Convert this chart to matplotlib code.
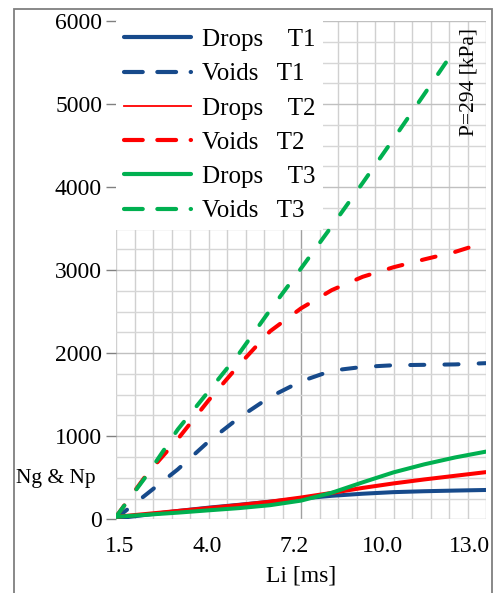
import numpy as np
import matplotlib
matplotlib.use("Agg")
import matplotlib.pyplot as plt
from matplotlib.lines import Line2D
from matplotlib.patches import Rectangle

plt.rcParams['font.family'] = ['Liberation Serif', 'DejaVu Serif']

# ---- data ----
x_common = [1.5, 2.5, 3.5, 4.5, 5.5, 6.5, 7.5, 8.5, 9.5, 10.5, 11.5, 12.5, 13.5]
drops_t1 = [10, 55, 100, 140, 175, 212, 250, 283, 308, 327, 338, 346, 353]
drops_t2 = [30, 65, 100, 135, 172, 212, 262, 318, 378, 432, 480, 524, 568]
drops_t3 = [30, 55, 80, 108, 135, 170, 225, 320, 445, 565, 662, 745, 815]
voids_t1 = [10, 305, 600, 936, 1226, 1474, 1661, 1790, 1835, 1855, 1860, 1865, 1880]

x_voids_t2 = [1.5, 2.5, 3.5, 4.5, 5.5, 6.5, 7.5, 8.5, 9.5, 10.5, 11.5, 12.5, 13.1]
voids_t2 = [30, 542, 964, 1431, 1863, 2265, 2540, 2760, 2920, 3035, 3130, 3220, 3290]

x_voids_t3 = [1.5, 2.5, 3.5, 4.5, 5.5, 6.5, 7.5, 8.5, 9.5, 10.5, 11.5, 12.2]
voids_t3 = [30, 530, 1080, 1540, 2000, 2520, 3020, 3530, 4050, 4580, 5120, 5500]

xtick_labels = ["1.5", "4.0", "7.2", "10.0", "13.0"]
ytick_values = [0, 1000, 2000, 3000, 4000, 5000, 6000]
series_labels = ["Drops    T1", "Voids   T1", "Drops    T2",
                 "Voids   T2", "Drops    T3", "Voids   T3"]

# ---- style ----
BLUE = "#174A8B"
RED = "#FF0000"
GREEN = "#00B050"
W, H = 494, 593
fig = plt.figure(figsize=(W / 100, H / 100), dpi=100)

# outer frame
fig.patches.append(Rectangle((13.5 / W, -0.05), (491.5 - 13.5) / W, 1.05 - 8.5 / H,
                             transform=fig.transFigure, fill=False,
                             edgecolor="#7F7F7F", lw=1.3, zorder=0))

ax = fig.add_axes([116 / W, (H - 519.3) / H, (486 - 116) / W, (519.3 - 21) / H])
ax.set_xlim(1.5, 13.5)
ax.set_ylim(0, 6000)

# grid
for xv in np.linspace(1.5, 13.5, 21):
    c = "#A0A0A0" if abs(xv - 7.5) < 1e-6 else "#D0D0D0"
    ax.axvline(xv, color=c, lw=1.0, zorder=0)
for yv in np.arange(0, 6001, 250):
    c = "#C0C0C0" if yv % 1000 == 0 else "#D6D6D6"
    ax.axhline(yv, color=c, lw=1.0, zorder=0)

for s in ax.spines.values():
    s.set_visible(False)

LW = 2.9
dash = (0, (3.5, 5.0))
ax.plot(x_common, drops_t1, color=BLUE, lw=LW, solid_capstyle="round", zorder=3)
ax.plot(x_common, voids_t1, color=BLUE, lw=LW, ls=dash, dash_capstyle="round", zorder=3)
ax.plot(x_common, drops_t2, color=RED, lw=LW, solid_capstyle="round", zorder=3)
ax.plot(x_voids_t2, voids_t2, color=RED, lw=LW, ls=dash, dash_capstyle="round", zorder=3)
ax.plot(x_common, drops_t3, color=GREEN, lw=LW, solid_capstyle="round", zorder=4)
ax.plot(x_voids_t3, voids_t3, color=GREEN, lw=LW, ls=dash, dash_capstyle="round", zorder=4)

# ticks
ax.set_yticks(ytick_values)
ax.set_yticklabels([str(v) for v in ytick_values], fontsize=17)
ax.tick_params(axis="y", length=7, width=1, color="#808080", pad=3)
xtick_pos = [1.62, 4.46, 7.29, 10.13, 12.97]
ax.set_xticks(xtick_pos)
ax.set_xticklabels(xtick_labels, fontsize=17)
ax.tick_params(axis="x", length=0, pad=12)

ax.set_xlabel("Li [ms]", fontsize=17, labelpad=6)
fig.text(56 / W, 1 - 478 / H, "Ng & Np", fontsize=15.5, ha="center", va="center")
ax.text(0.953, 1 - (82 - 21) / (519.3 - 21), "P=294 [kPa]",
        transform=ax.transAxes, rotation=90, fontsize=15.5, ha="center", va="center")

# legend
handles = [
    Line2D([], [], color=BLUE, lw=3.0, solid_capstyle="round"),
    Line2D([], [], color=BLUE, lw=3.0, ls=(0, (4.5, 3.5)), dash_capstyle="round"),
    Line2D([], [], color=RED, lw=1.3),
    Line2D([], [], color=RED, lw=3.0, ls=(0, (4.5, 3.5)), dash_capstyle="round"),
    Line2D([], [], color=GREEN, lw=3.0, solid_capstyle="round"),
    Line2D([], [], color=GREEN, lw=3.0, ls=(0, (4.5, 3.5)), dash_capstyle="round"),
]
leg = ax.legend(handles, series_labels, loc="upper left", bbox_to_anchor=(0, 1),
                borderaxespad=0, fontsize=18, frameon=True, fancybox=False,
                framealpha=1, edgecolor="none", facecolor="white",
                handlelength=2.7, handletextpad=0.45, labelspacing=0.47,
                borderpad=0.3)
leg.set_zorder(5)

fig.savefig("out.png", dpi=100)
